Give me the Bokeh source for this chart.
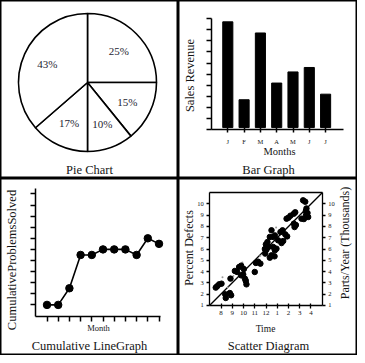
import numpy as np
from bokeh.plotting import figure
from bokeh.models import Range1d, LinearAxis, FixedTicker, Label
from bokeh.layouts import gridplot
from bokeh.embed import file_html
from bokeh.resources import INLINE
from bokeh.core.properties import value

# ---------------- data ----------------
# Pie chart: printed labels and the slice sizes as drawn (degrees, clockwise from 12 o'clock)
pie_labels = ["25%", "15%", "10%", "17%", "43%"]
pie_slice_degrees = [90, 51, 39, 49, 131]

# Bar graph
bar_months = ["J", "F", "M", "A", "M", "J", "J"]
bar_revenue = [9.7, 2.7, 8.7, 4.2, 5.2, 5.6, 3.2]

# Cumulative line graph
line_month = [1, 2, 3, 4, 5, 6, 7, 8, 9, 10, 11]
line_cumulative = [1, 1, 2.5, 5.5, 5.5, 6, 6, 6, 5.5, 7, 6.5]

# Scatter diagram (time in hours 7..17, percent defects)
scatter_time = [7.53, 7.65, 7.83, 8.04, 8.84, 8.37, 8.42, 8.78, 8.9, 9.23,
                9.43, 9.61, 9.79, 10.03, 9.79, 9.97, 10.2, 10.26, 10.12, 11.0,
                11.1, 11.3, 11.5, 11.93, 12.04, 12.22, 11.99, 12.13, 12.34, 12.49,
                12.64, 12.79, 12.34, 12.49, 12.76, 12.93, 12.79, 13.08, 13.29, 13.47,
                13.71, 13.88, 13.53, 13.38, 12.64, 11.9, 13.83, 14.0, 14.18, 14.48,
                14.6, 14.48, 14.66, 14.54, 15.3, 15.49, 15.55, 15.69, 15.55, 15.75,
                15.37, 15.16, 15.6]
scatter_defects = [2.57, 2.69, 2.86, 2.92, 3.37, 1.98, 1.65, 2.09, 1.89, 4.05,
                   3.96, 4.4, 4.52, 4.22, 3.66, 3.75, 3.16, 2.86, 3.37, 3.96,
                   4.76, 4.87, 4.7, 5.59, 5.94, 6.18, 6.41, 6.62, 7.07, 7.66,
                   7.07, 7.21, 5.23, 5.44, 5.35, 6.03, 5.88, 6.77, 7.51, 7.66,
                   7.3, 7.12, 6.71, 6.53, 6.18, 6.0, 8.69, 8.78, 8.96, 9.14,
                   9.26, 8.25, 8.13, 7.95, 10.32, 10.2, 9.37, 9.2, 8.99, 8.84,
                   8.66, 8.69, 9.6]
faint_time = [8.13, 9.1, 10.4, 11.5, 12.9, 13.9, 8.6, 9.9]
faint_defects = [3.5, 3.6, 3.3, 5.4, 7.9, 8.6, 2.6, 4.8]
fit_time = [7, 17]
fit_defects = [1, 11]
time_ticks = [8, 9, 10, 11, 12, 13, 14, 15, 16]
time_tick_labels = ["8", "9", "10", "11", "12", "1", "2", "3", "4"]
defect_ticks = [1, 2, 3, 4, 5, 6, 7, 8, 9, 10]

FONT = "Liberation Serif"
INK = "#151515"


def panel(w, h, xr, yr):
    p = figure(width=w, height=h, x_range=Range1d(*xr), y_range=Range1d(*yr),
               x_axis_type=None, y_axis_type=None, toolbar_location=None,
               output_backend="svg", min_border=0)
    p.outline_line_color = "black"
    p.outline_line_width = 2
    p.background_fill_color = "white"
    p.border_fill_color = "white"
    return p


def axis(p, side, loc, bounds, ticks, labels=None, tick_in=0, tick_out=5,
         size="7px", standoff=4, width=1.5):
    ax = LinearAxis(fixed_location=loc, bounds=bounds, ticker=FixedTicker(ticks=ticks))
    ax.axis_line_width = width
    ax.axis_line_color = "black"
    ax.major_tick_line_width = width
    ax.major_tick_line_color = "black" if ticks else None
    ax.major_tick_in = tick_in
    ax.major_tick_out = tick_out
    ax.minor_tick_line_color = None
    ax.major_label_text_font = FONT
    ax.major_label_text_font_size = size
    ax.major_label_text_color = INK
    ax.major_label_standoff = standoff
    if labels is None:
        ax.major_label_text_color = None
    else:
        ax.major_label_overrides = labels
    p.add_layout(ax, side)
    return ax


def text_label(p, x, y, text, size, angle=0.0):
    p.add_layout(Label(x=x, y=y, x_units="screen", y_units="screen", text=text,
                       angle=angle, text_font=FONT, text_font_size=size,
                       text_align="center", text_baseline="middle", text_color=INK))


TOP_H, BOT_H = 178, 177
LEFT_W, RIGHT_W = 178, 179

# ---------------- pie ----------------
R = 69
p1 = panel(LEFT_W, TOP_H, (-87, LEFT_W - 87), (-(TOP_H - 82), 82))
cum = np.concatenate([[0], np.cumsum(pie_slice_degrees)])
starts = 90 - cum[1:]
ends = 90 - cum[:-1]
p1.wedge(x=0, y=0, radius=R, start_angle=starts, end_angle=ends,
         start_angle_units="deg", end_angle_units="deg", direction="anticlock",
         fill_color="white", line_color="black", line_width=1.6)
mid = np.radians((starts + ends) / 2)
lr = 0.64 * R
p1.text(x=lr * np.cos(mid), y=lr * np.sin(mid), text=pie_labels,
        text_font=value(FONT), text_font_size="11px", text_color="#1d1d30",
        text_align="center", text_baseline="middle")
text_label(p1, 89, TOP_H - 169, "Pie Chart", "12.5px")

# ---------------- bar ----------------
bx0, bsx = 33, 16.3
by0, bsy = 129.3, 11.13
p2 = panel(RIGHT_W, TOP_H, (-bx0 / bsx, (RIGHT_W - bx0) / bsx),
           (-(TOP_H - by0) / bsy, by0 / bsy))
bar_pos = list(range(1, len(bar_months) + 1))
p2.vbar(x=bar_pos, top=bar_revenue, bottom=0.2, width=0.62, fill_color="black",
        line_color="black")
axis(p2, "left", 0, (0, 10), list(range(0, 11)), None, 0, 5)
axis(p2, "below", 0, (0, 8.1), bar_pos,
     {i: m for i, m in zip(bar_pos, bar_months)}, 2, 3, "6.5px", 5)
text_label(p2, 11, TOP_H - 75, "Sales Revenue", "12.5px", np.pi / 2)
text_label(p2, 101, TOP_H - 151, "Months", "10.5px")
text_label(p2, 90, TOP_H - 169, "Bar Graph", "12.5px")

# ---------------- cumulative line ----------------
lx0, lsx = 35.3, 11.2
ly0, lsy = 137.5, 11.1
p3 = panel(LEFT_W, BOT_H, (-lx0 / lsx, (LEFT_W - lx0) / lsx),
           (-(BOT_H - ly0) / lsy, ly0 / lsy))
axis(p3, "left", 0, (0, 11.47), list(range(1, 12)), None, 0, 5)
axis(p3, "below", 0, (0, 11.1), line_month, None, 0, 5)
p3.line(line_month, line_cumulative, line_color="black", line_width=1.6)
p3.scatter(line_month, line_cumulative, size=7.5, fill_color="black", line_color="black")
text_label(p3, 11, BOT_H - 81.5, "CumulativeProblemsSolved", "12.5px", np.pi / 2)
text_label(p3, 98, BOT_H - 149.5, "Month", "8.5px")
text_label(p3, 89, BOT_H - 167.5, "Cumulative LineGraph", "12.5px")

# ---------------- scatter ----------------
sx_left, ssx = 31.3, 11.24
sy_bottom, ssy = 126.8, 11.26
p4 = panel(RIGHT_W, BOT_H, (7 - sx_left / ssx, 7 + (RIGHT_W - sx_left) / ssx),
           (1 - (BOT_H - sy_bottom) / ssy, 1 + sy_bottom / ssy))
axis(p4, "left", 7, (1, 11), defect_ticks, {t: str(t) for t in defect_ticks}, 0, 3, "6.5px", 3, 1.3)
axis(p4, "right", 17, (1, 11), defect_ticks, {t: str(t) for t in defect_ticks}, 0, 3, "6.5px", 3, 1.3)
axis(p4, "below", 1, (7, 17), time_ticks,
     {t: s for t, s in zip(time_ticks, time_tick_labels)}, 2, 3, "7px", 3, 1.3)
axis(p4, "above", 11, (7, 17), [], None, 0, 0, "7px", 3, 1.3)
p4.line(fit_time, fit_defects, line_color="black", line_width=1.3)
p4.scatter(faint_time, faint_defects, size=2, fill_color="#9a9a9a", line_color=None)
p4.scatter(scatter_time, scatter_defects, size=5.5, fill_color="black", line_color="black")
text_label(p4, 10, BOT_H - 69.5, "Percent Defects", "12px", np.pi / 2)
text_label(p4, 166, BOT_H - 64.5, "Parts/Year (Thousands)", "12px", np.pi / 2)
text_label(p4, 87, BOT_H - 150.5, "Time", "9.5px")
text_label(p4, 90, BOT_H - 167.5, "Scatter Diagram", "12.5px")

grid = gridplot([[p1, p2], [p3, p4]], toolbar_location=None)
open("out.html", "w").write(file_html(grid, INLINE))
